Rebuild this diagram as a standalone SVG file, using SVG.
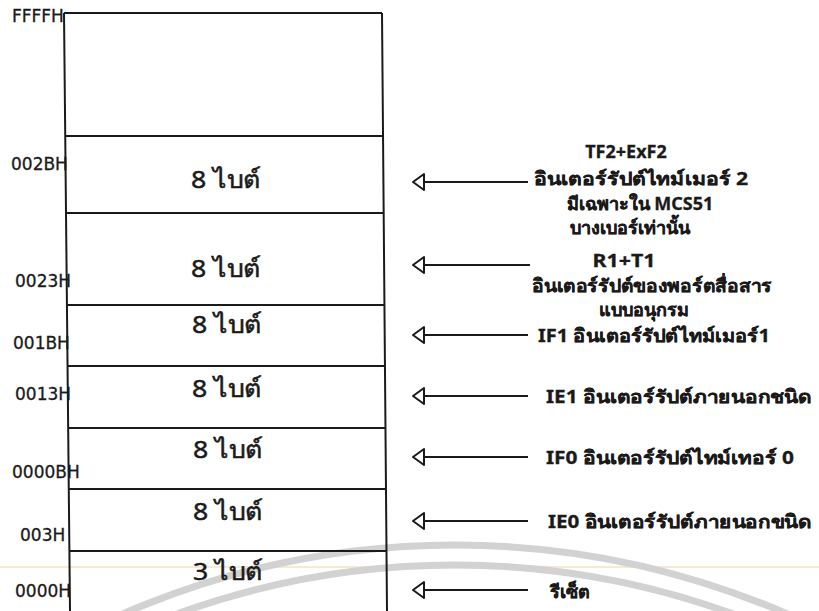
<svg xmlns="http://www.w3.org/2000/svg" width="819" height="611" viewBox="0 0 819 611">
<style>
.bg{fill:#ffffff}
.wm{fill:none;stroke:#d2d2d2;stroke-width:7}
.edge{stroke:#1a1a1a;stroke-width:2;fill:none}
.addr{font-family:"DejaVu Sans","Noto Sans",sans-serif;font-size:17px;fill:#1a1a1a;stroke:#1a1a1a;stroke-width:0.3}
.size{font-family:"Noto Sans","DejaVu Sans",sans-serif;font-size:24px;fill:#1a1a1a;stroke:#1a1a1a;stroke-width:0.5;text-anchor:middle}
.lbl{font-family:Tahoma,"Noto Sans","DejaVu Sans",sans-serif;font-size:18px;fill:#1a1a1a;font-weight:bold;stroke:#1a1a1a;stroke-width:0.3}
.mid{text-anchor:middle}
.conn{stroke:#1a1a1a;stroke-width:2;fill:none;marker-start:url(#head)}
</style>
<defs>
<marker id="head" markerUnits="userSpaceOnUse" markerWidth="14" markerHeight="20" refX="12" refY="10" orient="auto" viewBox="0 0 14 20">
<path d="M1,10 L12,2 L12,18 Z" fill="#ffffff" stroke="#1a1a1a" stroke-width="2" stroke-linejoin="round"/>
</marker>
</defs>
<rect class="bg" x="0" y="0" width="819" height="611"/>
<g id="watermark">
<line x1="0" y1="567" x2="819" y2="567" stroke="#f3e3c4" stroke-width="1.5"/>
<circle class="wm" cx="455" cy="1380" r="835"/>
<circle class="wm" cx="455" cy="1380" r="815"/>
</g>
<g id="memory-map">
<path class="edge" d="M64,13 L70,611 M382,13 L387,611 M64,13 L382,13"/>
</g>
<g id="region-top">
<text class="addr" x="12" y="22">FFFFH</text>
</g>
<g id="region-002B">
<line class="edge" x1="65" y1="136" x2="383" y2="136"/>
<text class="addr" x="11" y="170">002BH</text>
<text class="size" x="226" y="188" textLength="70" lengthAdjust="spacingAndGlyphs">8 ไบต์</text>
</g>
<g id="region-0023">
<line class="edge" x1="66" y1="213" x2="384" y2="213"/>
<text class="addr" x="15" y="287">0023H</text>
<text class="size" x="226" y="277" textLength="70" lengthAdjust="spacingAndGlyphs">8 ไบต์</text>
</g>
<g id="region-001B">
<line class="edge" x1="67" y1="305" x2="384" y2="305"/>
<text class="addr" x="13" y="349">001BH</text>
<text class="size" x="227" y="333" textLength="70" lengthAdjust="spacingAndGlyphs">8 ไบต์</text>
</g>
<g id="region-0013">
<line class="edge" x1="67" y1="366" x2="385" y2="366"/>
<text class="addr" x="15" y="400">0013H</text>
<text class="size" x="227" y="397" textLength="70" lengthAdjust="spacingAndGlyphs">8 ไบต์</text>
</g>
<g id="region-000B">
<line class="edge" x1="68" y1="428" x2="385" y2="428"/>
<text class="addr" x="12" y="478">0000BH</text>
<text class="size" x="228" y="458" textLength="70" lengthAdjust="spacingAndGlyphs">8 ไบต์</text>
</g>
<g id="region-0003">
<line class="edge" x1="69" y1="489" x2="386" y2="489"/>
<text class="addr" x="20" y="541">003H</text>
<text class="size" x="228" y="520" textLength="70" lengthAdjust="spacingAndGlyphs">8 ไบต์</text>
</g>
<g id="region-0000">
<line class="edge" x1="69" y1="551" x2="386" y2="551"/>
<text class="addr" x="15" y="597">0000H</text>
<text class="size" x="228" y="580" textLength="70" lengthAdjust="spacingAndGlyphs">3 ไบต์</text>
</g>
<g id="connectors">
<line class="conn" x1="424" y1="182" x2="528" y2="182"/>
<line class="conn" x1="424" y1="265" x2="530" y2="265"/>
<line class="conn" x1="424" y1="335" x2="528" y2="335"/>
<line class="conn" x1="424" y1="396" x2="528" y2="396"/>
<line class="conn" x1="424" y1="457" x2="528" y2="457"/>
<line class="conn" x1="424" y1="521" x2="528" y2="521"/>
<line class="conn" x1="424" y1="590" x2="528" y2="590"/>
</g>
<g id="label-tf2">
<text class="lbl mid" x="626" y="158">TF2+ExF2</text>
<text class="lbl mid" x="641" y="185" textLength="214" lengthAdjust="spacingAndGlyphs">อินเตอร์รัปต์ไทม์เมอร์ 2</text>
<text class="lbl mid" x="640" y="210">มีเฉพาะใน MCS51</text>
<text class="lbl mid" x="630" y="234">บางเบอร์เท่านั้น</text>
</g>
<g id="label-ri-ti">
<text class="lbl mid" x="624" y="267" textLength="63" lengthAdjust="spacingAndGlyphs">R1+T1</text>
<text class="lbl mid" x="652" y="292" textLength="240" lengthAdjust="spacingAndGlyphs">อินเตอร์รัปต์ของพอร์ตสื่อสาร</text>
<text class="lbl mid" x="644" y="316">แบบอนุกรม</text>
</g>
<g id="label-if1"><text class="lbl" x="538" y="342" textLength="232" lengthAdjust="spacingAndGlyphs">IF1 อินเตอร์รัปต์ไทม์เมอร์1</text></g>
<g id="label-ie1"><text class="lbl" x="546" y="403" textLength="266" lengthAdjust="spacingAndGlyphs">IE1 อินเตอร์รัปต์ภายนอกชนิด</text></g>
<g id="label-if0"><text class="lbl" x="546" y="464" textLength="248" lengthAdjust="spacingAndGlyphs">IF0 อินเตอร์รัปต์ไทม์เทอร์ 0</text></g>
<g id="label-ie0"><text class="lbl" x="548" y="528" textLength="264" lengthAdjust="spacingAndGlyphs">IE0 อินเตอร์รัปต์ภายนอกขนิด</text></g>
<g id="label-reset"><text class="lbl" x="550" y="598" textLength="40" lengthAdjust="spacingAndGlyphs">รีเซ็ต</text></g>
</svg>
